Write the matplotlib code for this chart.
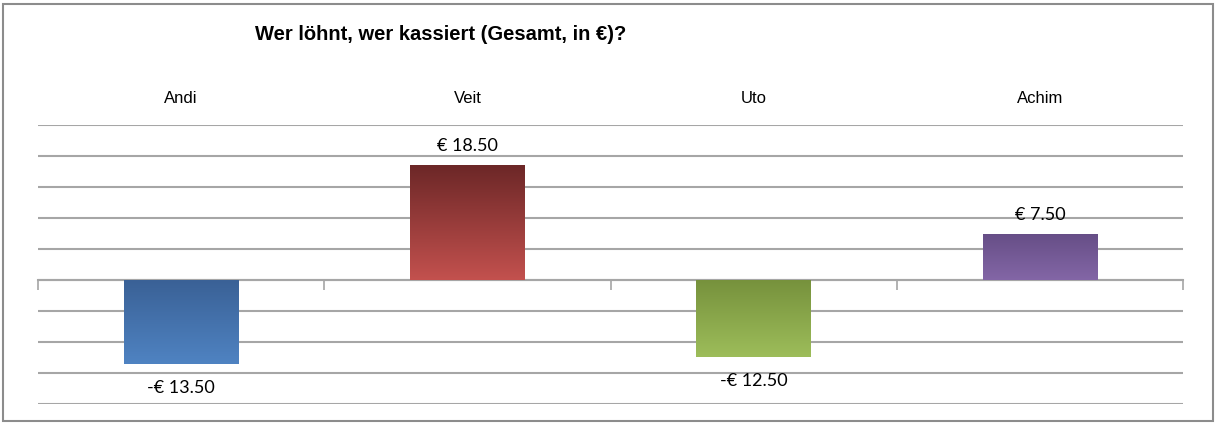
import numpy as np
import matplotlib
matplotlib.use("Agg")
import matplotlib.pyplot as plt
from matplotlib.colors import LinearSegmentedColormap
from matplotlib.patches import Rectangle

names = ["Andi", "Veit", "Uto", "Achim"]
values = [-13.50, 18.50, -12.50, 7.50]
labels = ["-€ 13.50", "€ 18.50", "-€ 12.50", "€ 7.50"]
top_colors = ["#3a6196", "#6c2727", "#76913c", "#664e86"]
bottom_colors = ["#4f83c2", "#c3514e", "#9dbd5a", "#8366a6"]

fig = plt.figure(figsize=(12.18, 4.24), dpi=100)
ax = fig.add_axes([38 / 1218, 1 - 404 / 424, (1183 - 38) / 1218, (404 - 125) / 424])

x = np.arange(len(names))
bars = ax.bar(x, values, width=0.4, color="none", edgecolor="none", zorder=3)

# gradient fill, dark at top -> light at bottom
grad = np.linspace(0, 1, 256).reshape(-1, 1)
for bar, c1, c2 in zip(bars, top_colors, bottom_colors):
    bx, by = bar.get_x(), bar.get_y()
    bw, bh = bar.get_width(), bar.get_height()
    y0, y1 = min(by, by + bh), max(by, by + bh)
    cmap = LinearSegmentedColormap.from_list("g", [c1, c2])
    im = ax.imshow(grad, cmap=cmap, aspect="auto", extent=(bx, bx + bw, y0, y1),
                   origin="upper", zorder=3)
    im.set_clip_path(bar)

for xi, v, lab in zip(x, values, labels):
    off = 19 if v > 0 else -24
    ax.annotate(lab, (xi, v), xytext=(0, off), textcoords="offset pixels",
                ha="center", va="center", fontsize=13, family=["Lato", "DejaVu Sans"], zorder=4)

ax.set_xlim(-0.5, 3.5)
ax.set_ylim(-20, 25)
ax.set_yticks(np.arange(-20, 26, 5))
ax.yaxis.grid(True, color="#a6a6a6", linewidth=1.5)
ax.set_axisbelow(True)
ax.tick_params(axis="y", left=False, labelleft=False)

for s in ["top", "left", "right"]:
    ax.spines[s].set_visible(False)
ax.spines["bottom"].set_position(("data", 0))
ax.spines["bottom"].set_color("#a6a6a6")
ax.spines["bottom"].set_linewidth(1.5)
ax.set_xticks(np.arange(-0.5, 4, 1))
ax.tick_params(axis="x", direction="out", length=7, width=1.2, color="#a6a6a6", labelbottom=False)

top = ax.secondary_xaxis("top")
top.set_xticks(x)
top.set_xticklabels(names, fontsize=12, family=["Liberation Sans", "DejaVu Sans"])
top.tick_params(length=0, pad=14)
top.spines["top"].set_visible(False)

fig.text(441 / 1218, 1 - 35 / 424, "Wer löhnt, wer kassiert (Gesamt, in €)?", ha="center", va="center",
         fontsize=14.5, fontweight="bold", family=["Liberation Sans", "DejaVu Sans"])

fig.patches.append(Rectangle((3 / 1218, 3 / 424), 1210 / 1218, 417 / 424, transform=fig.transFigure,
                             fill=False, edgecolor="#8c8c8c", linewidth=1.5))

fig.savefig("out.png", dpi=100)
